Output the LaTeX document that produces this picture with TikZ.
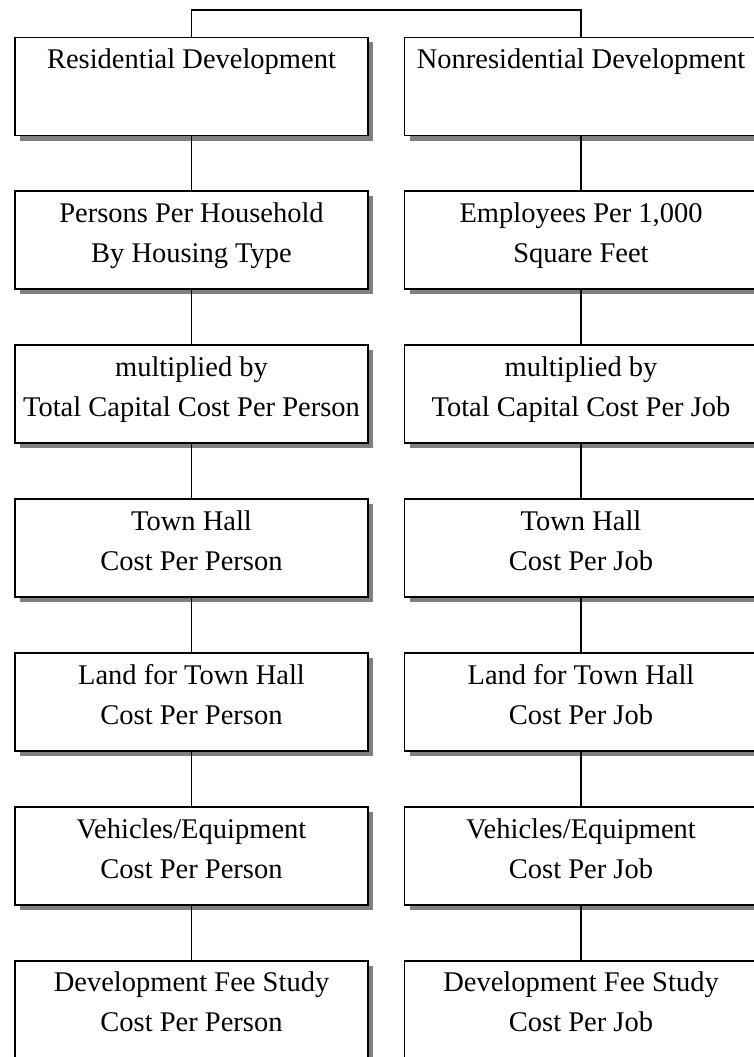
\documentclass[tikz,border=0pt]{standalone}
\usepackage{fontspec}
\setmainfont{Liberation Serif}
\usetikzlibrary{shadows}
% strut spanning one full 40pt line (22pt above, 18pt below the baseline)
\newcommand\tstrut{\rule[-18pt]{0pt}{40pt}}
\newcommand\boxtext[2]{#1\tstrut\\#2\tstrut}
\begin{document}
\begin{tikzpicture}[x=1pt,y=-1pt,
  stepbox/.style={draw=black, line width=1.9pt, fill=white,
    minimum width=353pt, minimum height=98pt, inner sep=0pt, align=center,
    font=\fontsize{28.5}{40}\selectfont,
    drop shadow={shadow xshift=5pt, shadow yshift=-5pt, opacity=1, fill=black!50}},
  link/.style={line width=1.4pt}]
\useasboundingbox (0,0) rectangle (754,1057);

% residential column
\node[stepbox] (r1) at (191.5,86.5)  {\boxtext{Residential Development}{}};
\node[stepbox] (r2) at (191.5,240.4) {\boxtext{Persons Per Household}{By Housing Type}};
\node[stepbox] (r3) at (191.5,394.3) {\boxtext{multiplied by}{Total Capital Cost Per Person}};
\node[stepbox] (r4) at (191.5,548.2) {\boxtext{Town Hall}{Cost Per Person}};
\node[stepbox] (r5) at (191.5,702.1) {\boxtext{Land for Town Hall}{Cost Per Person}};
\node[stepbox] (r6) at (191.5,856)   {\boxtext{Vehicles/Equipment}{Cost Per Person}};
\node[stepbox] (r7) at (191.5,1009.9){\boxtext{Development Fee Study}{Cost Per Person}};

% nonresidential column
\node[stepbox] (n1) at (581,86.5)  {\boxtext{Nonresidential Development}{}};
\node[stepbox] (n2) at (581,240.4) {\boxtext{Employees Per 1,000}{Square Feet}};
\node[stepbox] (n3) at (581,394.3) {\boxtext{multiplied by}{Total Capital Cost Per Job}};
\node[stepbox] (n4) at (581,548.2) {\boxtext{Town Hall}{Cost Per Job}};
\node[stepbox] (n5) at (581,702.1) {\boxtext{Land for Town Hall}{Cost Per Job}};
\node[stepbox] (n6) at (581,856)   {\boxtext{Vehicles/Equipment}{Cost Per Job}};
\node[stepbox] (n7) at (581,1009.9){\boxtext{Development Fee Study}{Cost Per Job}};

% top bracket joining the two columns
\coordinate (top) at (386,10);
\draw[link] (r1.north) |- (top) -| (n1.north);

% vertical links down each column
\foreach \a/\b in {1/2,2/3,3/4,4/5,5/6,6/7}{
  \draw[link] (r\a.south) -- (r\b.north);
  \draw[link] (n\a.south) -- (n\b.north);
}
\end{tikzpicture}
\end{document}
